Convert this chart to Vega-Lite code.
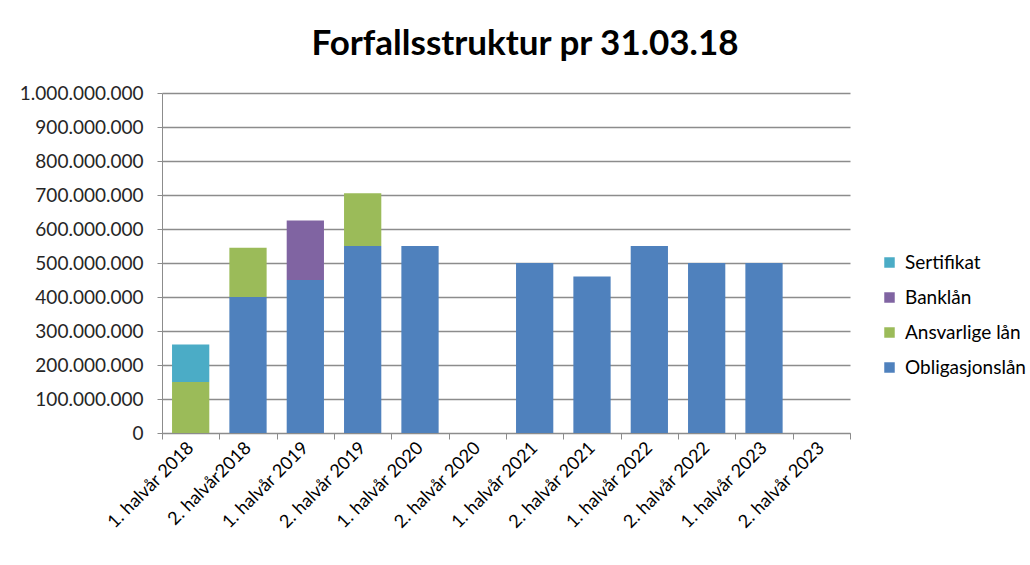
{
  "$schema": "https://vega.github.io/schema/vega-lite/v6.json",
  "width": 688,
  "height": 340,
  "autosize": {"type": "none"},
  "padding": {"left": 162, "top": 93, "right": 180, "bottom": 132},
  "background": "white",
  "title": {
    "text": "Forfallsstruktur pr 31.03.18",
    "font": "Lato",
    "fontSize": 35,
    "fontWeight": "bold",
    "color": "#000000",
    "anchor": "middle",
    "frame": "group",
    "dx": 19,
    "offset": 22
  },
  "data": {
    "values": [
      {"periode": "1. halvår 2018", "serie": "Ansvarlige lån", "rank": 2, "belop": 150000000},
      {"periode": "1. halvår 2018", "serie": "Sertifikat", "rank": 4, "belop": 110000000},
      {"periode": "2. halvår2018", "serie": "Obligasjonslån", "rank": 1, "belop": 400000000},
      {"periode": "2. halvår2018", "serie": "Ansvarlige lån", "rank": 2, "belop": 145000000},
      {"periode": "1. halvår 2019", "serie": "Obligasjonslån", "rank": 1, "belop": 450000000},
      {"periode": "1. halvår 2019", "serie": "Banklån", "rank": 3, "belop": 175000000},
      {"periode": "2. halvår 2019", "serie": "Obligasjonslån", "rank": 1, "belop": 550000000},
      {"periode": "2. halvår 2019", "serie": "Ansvarlige lån", "rank": 2, "belop": 155000000},
      {"periode": "1. halvår 2020", "serie": "Obligasjonslån", "rank": 1, "belop": 550000000},
      {"periode": "2. halvår 2020", "serie": "Obligasjonslån", "rank": 1, "belop": 0},
      {"periode": "1. halvår 2021", "serie": "Obligasjonslån", "rank": 1, "belop": 500000000},
      {"periode": "2. halvår 2021", "serie": "Obligasjonslån", "rank": 1, "belop": 460000000},
      {"periode": "1. halvår 2022", "serie": "Obligasjonslån", "rank": 1, "belop": 550000000},
      {"periode": "2. halvår 2022", "serie": "Obligasjonslån", "rank": 1, "belop": 500000000},
      {"periode": "1. halvår 2023", "serie": "Obligasjonslån", "rank": 1, "belop": 500000000},
      {"periode": "2. halvår 2023", "serie": "Obligasjonslån", "rank": 1, "belop": 0}
    ]
  },
  "mark": {"type": "bar", "width": {"band": 0.65}},
  "encoding": {
    "x": {
      "field": "periode",
      "type": "nominal",
      "sort": null,
      "scale": {"paddingInner": 0, "paddingOuter": 0},
      "axis": {
        "title": null,
        "labelAngle": -45,
        "labelAlign": "right",
        "labelBaseline": "middle",
        "labelFont": "Lato",
        "labelFontSize": 18,
        "labelColor": "#000000",
        "labelPadding": 6,
        "tickBand": "extent",
        "ticks": true,
        "tickSize": 6,
        "tickColor": "#8c8c8c",
        "domainColor": "#8c8c8c",
        "grid": false
      }
    },
    "y": {
      "field": "belop",
      "type": "quantitative",
      "stack": "zero",
      "scale": {"domain": [0, 1000000000], "nice": false},
      "axis": {
        "title": null,
        "format": ",d",
        "tickCount": 10,
        "labelFont": "Lato",
        "labelFontSize": 19,
        "labelColor": "#262626",
        "labelPadding": 14,
        "tickSize": 5,
        "tickColor": "#8c8c8c",
        "domainColor": "#8c8c8c",
        "gridColor": "#8c8c8c",
        "gridWidth": 1.3
      }
    },
    "color": {
      "field": "serie",
      "type": "nominal",
      "scale": {
        "domain": ["Sertifikat", "Banklån", "Ansvarlige lån", "Obligasjonslån"],
        "range": ["#4BACC6", "#8064A2", "#9BBB59", "#4F81BD"]
      },
      "legend": {
        "title": null,
        "orient": "none",
        "legendX": 718,
        "legendY": 160,
        "symbolType": "square",
        "symbolSize": 110,
        "symbolStrokeWidth": 0,
        "labelFont": "Lato",
        "labelFontSize": 19,
        "labelColor": "#000000",
        "rowPadding": 15,
        "labelOffset": 6
      }
    },
    "order": {"field": "rank", "type": "quantitative", "sort": "ascending"}
  },
  "config": {
    "locale": {
      "number": {"decimal": ",", "thousands": ".", "grouping": [3], "currency": ["", " kr"]}
    },
    "view": {"stroke": null}
  }
}
